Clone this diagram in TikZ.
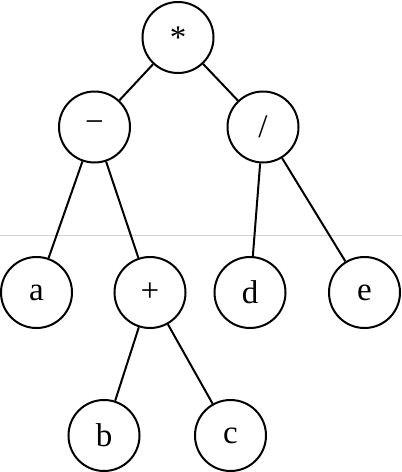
\documentclass[tikz,border=0pt]{standalone}
\usepackage{fontspec}
\setmainfont{Liberation Serif}
\begin{document}
\begin{tikzpicture}[x=1pt,y=-1pt,
  vnode/.style={circle,draw,line width=2pt,minimum size=71pt,inner sep=0pt,fill=white,font=\fontsize{33}{36}\selectfont},
  edge/.style={line width=2pt}]
\useasboundingbox (0,0) rectangle (402,472);
\draw[gray!35,line width=1pt] (0,235) -- (402,235);
\node[vnode] (star) at (178,37.5) {*};
\node[vnode] (minus) at (94.5,127) {−};
\node[vnode] (slash) at (263,127) {/};
\node[vnode] (a) at (36.5,292.5) {a};
\node[vnode] (plus) at (150,292.5) {+};
\node[vnode] (d) at (250,292.5) {d};
\node[vnode] (e) at (364.5,292.5) {e};
\node[vnode] (b) at (104,435.5) {b};
\node[vnode] (c) at (230.5,435.5) {c};
\draw[edge] (star) -- (minus);
\draw[edge] (star) -- (slash);
\draw[edge] (minus) -- (a);
\draw[edge] (minus) -- (plus);
\draw[edge] (slash) -- (d);
\draw[edge] (slash) -- (e);
\draw[edge] (plus) -- (b);
\draw[edge] (plus) -- (c);
\end{tikzpicture}
\end{document}
